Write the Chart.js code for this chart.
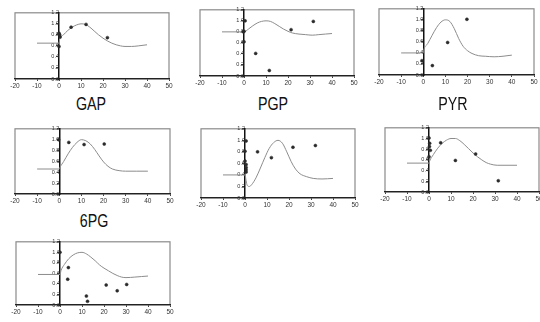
<!DOCTYPE html>
<html><head><meta charset="utf-8">
<script src="https://cdn.jsdelivr.net/npm/chart.js@4"></script>
<style>
html,body{margin:0;padding:0;background:#fff}
body{width:540px;height:322px;overflow:hidden;position:relative;font-family:"Liberation Sans",Arial,sans-serif}
canvas{position:absolute}
.t{position:absolute;font-size:19px;color:#111;line-height:19px;white-space:nowrap;transform:translateX(-50%) scaleX(0.75)}
</style></head><body>
<script>
// ---- data ----
const panelNames = ['GAP', 'PGP', 'PYR', '6PG', 'panel5', 'panel6', 'panel7'];
const titleLabels = ['GAP', 'PGP', 'PYR', '6PG'];
const xTickValues = [-20, -10, 0, 10, 20, 30, 40, 50];
const yTickValues = [0.0, 0.2, 0.4, 0.6, 0.8, 1.0, 1.2];

const gapCurveX = [-10,0,0.3,2,4,6,8,10,12,14,16,18,20,22,24,26,28,30,33,36,40];
const gapCurveY = [0.65,0.65,0.72,0.80,0.88,0.94,0.98,1.0,0.99,0.94,0.87,0.80,0.74,0.69,0.65,0.62,0.60,0.59,0.59,0.60,0.62];
const gapPointX = [0,0.3,0.5,0,5.5,12.3,22];
const gapPointY = [0.83,0.80,0.76,0.59,0.94,0.99,0.75];

const pgpCurveX = [-10,0,2,4,6,8,10,12,14,16,18,20,22,25,28,31,34,37,40];
const pgpCurveY = [0.80,0.80,0.85,0.91,0.96,0.99,1.0,0.99,0.95,0.90,0.85,0.81,0.78,0.76,0.75,0.74,0.75,0.76,0.77];
const pgpPointX = [0.5,0,-0.3,0,5.3,11.5,21.4,31.5];
const pgpPointY = [1.0,0.81,0.80,0.62,0.41,0.10,0.84,0.99];

const pyrCurveX = [-10,0,0.2,2,4,6,8,10,12,14,16,18,20,22,25,28,32,36,40];
const pyrCurveY = [0.40,0.40,0.45,0.57,0.72,0.86,0.96,1.0,0.97,0.84,0.66,0.52,0.44,0.39,0.35,0.34,0.33,0.34,0.36];
const pyrPointX = [-0.6,4.1,11,19.7];
const pyrPointY = [0.26,0.17,0.59,1.01];

const pg6CurveX = [-10,0,0.3,2,4,6,8,10,12,14,16,18,20,22,24,27,30,35,40];
const pg6CurveY = [0.46,0.46,0.49,0.60,0.74,0.86,0.95,1.0,0.98,0.92,0.82,0.70,0.59,0.51,0.46,0.43,0.42,0.42,0.42];
const pg6PointX = [-0.3,4.3,11.2,20.3];
const pg6PointY = [1.0,0.95,0.91,0.92];

const p5CurveX = [-10,0,0.5,1,2,3,5,7,9,11,13,15,17,19,21,23,25,28,31,35,40];
const p5CurveY = [0.40,0.40,0.30,0.22,0.20,0.23,0.35,0.52,0.70,0.86,0.96,1.0,0.95,0.80,0.63,0.50,0.42,0.37,0.34,0.33,0.34];
const p5PointX = [0.5,0,0,0.5,0.5,0.5,0.5,5.7,12,21.8,32];
const p5PointY = [0.99,0.81,0.64,0.58,0.53,0.49,0.45,0.80,0.70,0.88,0.91];

const p6CurveX = [-10,0,0.3,2,4,6,8,10,12,14,16,18,20,22,24,26,28,31,35,40];
const p6CurveY = [0.54,0.54,0.58,0.70,0.82,0.91,0.97,1.0,1.0,0.96,0.89,0.81,0.73,0.66,0.60,0.55,0.52,0.50,0.50,0.50];
const p6PointX = [0,0.3,0.2,0.6,0,5.3,12,21.2,31.5];
const p6PointY = [1.01,0.91,0.85,0.78,0.66,0.92,0.59,0.71,0.21];

const p7CurveX = [-10,0,0.5,2,4,6,8,10,12,14,16,18,20,22,24,26,28,30,34,37,40];
const p7CurveY = [0.58,0.58,0.66,0.77,0.88,0.95,0.99,1.0,0.97,0.91,0.84,0.76,0.70,0.65,0.60,0.56,0.53,0.52,0.53,0.54,0.55];
const p7PointX = [0,3.8,3.5,12,12.5,21,26,30.3];
const p7PointY = [1.0,0.71,0.49,0.17,0.07,0.38,0.27,0.39];

// ---- layout (plot box in page pixels) ----
const boxes = [
  {L:15, R:169, T:10, B:79},
  {L:200, R:354, T:7, B:76},
  {L:379, R:534, T:6, B:75},
  {L:15, R:170, T:126, B:194},
  {L:201, R:355, T:126, B:198},
  {L:385, R:539, T:125, B:192},
  {L:16, R:170, T:239, B:305}
];
const titlePos = [{x:91,y:94},{x:273,y:94},{x:453,y:94},{x:94,y:211}];

const series = [
  [gapCurveX, gapCurveY, gapPointX, gapPointY],
  [pgpCurveX, pgpCurveY, pgpPointX, pgpPointY],
  [pyrCurveX, pyrCurveY, pyrPointX, pyrPointY],
  [pg6CurveX, pg6CurveY, pg6PointX, pg6PointY],
  [p5CurveX, p5CurveY, p5PointX, p5PointY],
  [p6CurveX, p6CurveY, p6PointX, p6PointY],
  [p7CurveX, p7CurveY, p7PointX, p7PointY]
];

const zip = (xs, ys) => xs.map((x, i) => ({x, y: ys[i]}));

const boxPlugin = {
  id: 'box',
  beforeDraw(chart) {
    const {ctx, chartArea: a} = chart;
    ctx.save();
    ctx.strokeStyle = '#8a8a8a';
    ctx.lineWidth = 1.2;
    ctx.strokeRect(a.left, a.top, a.right - a.left, a.bottom - a.top);
    ctx.restore();
  }
};

const PAD_L = 14, PAD_R = 14, PAD_T = 4, XAX_H = 11, PAD_B = 2;

boxes.forEach((b, i) => {
  const cv = document.createElement('canvas');
  const w = (b.R - b.L) + PAD_L + PAD_R;
  const h = (b.B - b.T) + PAD_T + XAX_H + PAD_B;
  cv.width = w; cv.height = h;
  cv.style.left = (b.L - PAD_L) + 'px';
  cv.style.top = (b.T - PAD_T) + 'px';
  cv.style.width = w + 'px'; cv.style.height = h + 'px';
  document.body.appendChild(cv);
  const [cx, cy, px, py] = series[i];
  new Chart(cv, {
    type: 'scatter',
    data: {
      datasets: [
        {label: panelNames[i] + ' model', data: zip(cx, cy), showLine: true, pointRadius: 0,
         borderColor: '#8c8c8c', borderWidth: 1, cubicInterpolationMode: 'monotone', order: 2},
        {label: panelNames[i] + ' data', data: zip(px, py), showLine: false, pointRadius: 1.5,
         pointStyle: 'circle', backgroundColor: '#2a2a2a', borderColor: '#2a2a2a', borderWidth: 0.5, order: 1}
      ]
    },
    options: {
      responsive: false, animation: false, devicePixelRatio: 1,
      layout: {padding: {left: PAD_L, right: PAD_R, top: PAD_T, bottom: PAD_B}},
      plugins: {legend: {display: false}, tooltip: {enabled: false}},
      scales: {
        x: {
          type: 'linear', min: -20, max: 50,
          afterBuildTicks: s => { s.ticks = xTickValues.map(v => ({value: v})); },
          afterFit: s => { s.height = XAX_H; },
          grid: {display: true, drawOnChartArea: false, drawTicks: true, tickLength: 2, color: '#444'},
          border: {display: true, color: '#222', width: 1.3},
          ticks: {padding: 1, color: '#333', font: {size: 6.5, family: 'Liberation Sans'}, maxRotation: 0, autoSkip: false}
        },
        y: {
          type: 'linear', min: 0, max: 1.2, position: {x: 0},
          afterBuildTicks: s => { s.ticks = yTickValues.map(v => ({value: v})); },
          grid: {display: true, drawOnChartArea: false, drawTicks: true, tickLength: 2, color: '#444'},
          border: {display: true, color: '#111', width: 1.5},
          ticks: {padding: 3.5, color: '#333', font: {size: 5.5, family: 'Liberation Sans'},
                  callback: v => v.toFixed(1), autoSkip: false}
        }
      }
    },
    plugins: [boxPlugin]
  });
});

titleLabels.forEach((t, i) => {
  const d = document.createElement('div');
  d.className = 't';
  d.textContent = t;
  d.style.left = titlePos[i].x + 'px';
  d.style.top = titlePos[i].y + 'px';
  document.body.appendChild(d);
});
</script>
</body></html>
